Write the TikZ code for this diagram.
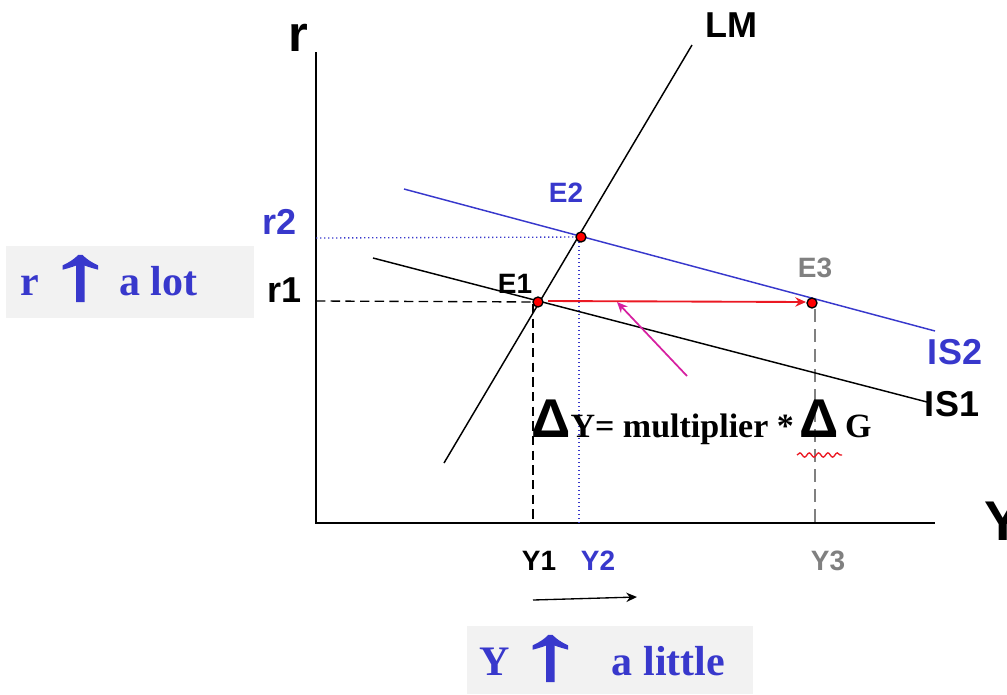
\documentclass[tikz,border=0pt]{standalone}
\usepackage{fontspec}
\setmainfont{Liberation Serif}
\newfontfamily\arial{Liberation Sans}
\newfontfamily\arrowfont[FakeBold=2]{Liberation Sans}
\usetikzlibrary{arrows.meta,decorations.pathmorphing}
\definecolor{myblue}{RGB}{56,56,204}
\definecolor{boxgray}{RGB}{242,242,242}
\definecolor{mygray}{RGB}{128,128,128}
\definecolor{mymag}{RGB}{214,32,160}
\definecolor{myred}{RGB}{235,25,35}
\newcommand{\fsz}[1]{\fontsize{#1}{#1}\selectfont}
\newcommand{\bigup}{{\arrowfont\fsz{58}\raisebox{-3pt}{\scalebox{1.8}[1]{↑}}}}
\begin{document}
\begin{tikzpicture}[x=0.75pt,y=-0.75pt,
  lab/.style={inner sep=0pt,font=\arial\bfseries\fsz{27}},
  smalllab/.style={inner sep=0pt,font=\arial\bfseries\fsz{21}},
  eqpt/.style={circle,fill=red,draw=black,line width=1pt,minimum size=7.5pt,inner sep=0pt},
  axisline/.style={line width=1.6pt},
  curve/.style={line width=1.1pt},
  guide/.style={line width=1pt,dash pattern=on 7pt off 4pt},
  dotguide/.style={myblue,line width=1pt,dash pattern=on 1pt off 2pt},
  graybox/.style={fill=boxgray,inner sep=0pt,anchor=north west},
  boxtext/.style={inner sep=0pt,anchor=base west,text=myblue,font=\bfseries\fsz{31.5}},
  arr/.style={-{Stealth[length=8pt,width=7pt]}}
]
\useasboundingbox (0,0) rectangle (1007,694);

% grey boxes
\node[graybox,minimum width=186pt,minimum height=54pt] (boxr) at (6,246) {};
\node[graybox,minimum width=214pt,minimum height=51pt] (boxy) at (467,626) {};

% axes
\coordinate (top) at (316,52);
\coordinate (O) at (316,523);
\coordinate (right) at (935,523);
\draw[axisline] (top) -- (O) -- (right);
\node[inner sep=0pt,font=\arial\bfseries\fsz{38}] (rlab) at (298,38) {r};
\node[inner sep=0pt,font=\arial\bfseries\fsz{42},anchor=west] (ylab) at (984,521) {Y};

% key points
\coordinate (E1c) at (538,302);
\coordinate (E2c) at (581,237);
\coordinate (E3c) at (812,303);

% guide lines
\coordinate (r2a) at (316,238);
\coordinate (r1a) at (316,301);
\coordinate (y1a) at (533,523);
\coordinate (y1t) at (533,304);
\coordinate (y2a) at (579,523);
\coordinate (y2t) at (579,238);
\coordinate (y3a) at (815,523);
\coordinate (y3t) at (815,309);
\draw[dotguide] (r2a) -- (E2c);
\draw[dotguide] (y2t) -- (y2a);
\draw[guide] (r1a) -- (E1c);
\draw[guide] (y1t) -- (y1a);
\draw[guide,mygray,dash pattern=on 10pt off 5pt] (y3t) -- (y3a);

% curves
\coordinate (LMa) at (444,463);
\coordinate (LMb) at (692,45);
\coordinate (IS1a) at (373,258);
\coordinate (IS1b) at (927,402);
\coordinate (IS2a) at (404,189);
\coordinate (IS2b) at (935,331);
\draw[curve] (LMa) -- (LMb);
\draw[curve] (IS1a) -- (IS1b);
\draw[curve,myblue] (IS2a) -- (IS2b);

% arrows
\coordinate (redS) at (548,301);
\coordinate (redE) at (806,302);
\draw[arr,myred,line width=1.4pt] (redS) -- (redE);
\coordinate (magS) at (687,376);
\coordinate (magE) at (617,302);
\draw[arr,mymag,line width=1.3pt] (magS) -- (magE);
\coordinate (bS) at (533,600);
\coordinate (bE) at (637,597);
\draw[arr,black,line width=1pt] (bS) -- (bE);

% points
\node[eqpt] (E1) at (E1c) {};
\node[eqpt] (E2) at (E2c) {};
\node[eqpt] (E3) at (E3c) {};

% labels
\node[lab] (LM) at (731,25) {LM};
\node[lab,text=myblue] (IS2) at (955,352) {IS2};
\node[lab] (IS1) at (952,404) {IS1};
\node[lab,text=myblue] (r2) at (280,222) {r2};
\node[lab] (r1) at (285,290) {r1};
\node[smalllab] (E1l) at (515,284) {E1};
\node[smalllab,text=myblue] (E2l) at (566,193) {E2};
\node[smalllab,text=mygray] (E3l) at (815,268) {E3};
\node[smalllab] (Y1) at (539,561) {Y1};
\node[smalllab,text=myblue] (Y2) at (598,561) {Y2};
\node[smalllab,text=mygray] (Y3) at (828,561) {Y3};

% equation
\node[inner sep=0pt,anchor=base west] (eq) at (531,437)
  {{\arial\bfseries\fsz{41}Δ}{\bfseries\fsz{25.5}Y= multiplier *}\hspace{4pt}{\arial\bfseries\fsz{41}Δ}\hspace{5pt}{\bfseries\fsz{25.5}G}};
\coordinate (wavA) at (797,455);
\coordinate (wavB) at (842,455);
\draw[myred,line width=1pt,decorate,decoration={snake,amplitude=1.6pt,segment length=7pt}] (wavA) -- (wavB);

% box texts
\node[boxtext] (rtext) at (20,295) {r\hspace{5pt}\bigup\hspace{3pt}a lot};
\node[boxtext] (ytext) at (479,675) {Y\hspace{4.5pt}\bigup\hspace{20pt}a little};
\end{tikzpicture}
\end{document}
